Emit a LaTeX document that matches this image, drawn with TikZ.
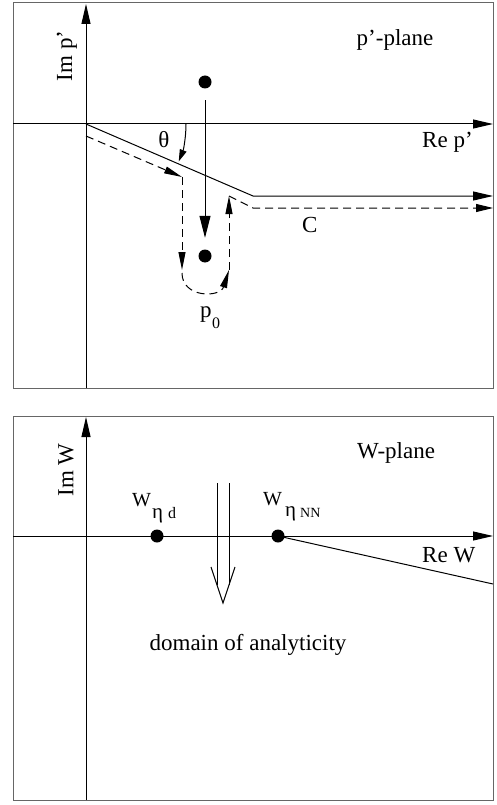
\documentclass[tikz,border=0pt]{standalone}
\usepackage{fontspec}
\setmainfont{Liberation Serif}
\usetikzlibrary{arrows.meta}
\begin{document}
\begin{tikzpicture}[x=1pt,y=-1pt,
  every node/.style={font=\fontsize{23}{27}\selectfont, inner sep=0pt},
  frame/.style={line width=1pt, draw=black!60},
  ln/.style={line width=1pt},
  ax/.style={line width=1pt,-{Triangle[length=20pt,width=9pt]}},
  dsh/.style={line width=1pt,dash pattern=on 8pt off 5pt},
  dtip/.style={-{Triangle[length=18pt,width=7pt]}},
  dot/.style={circle,fill,inner sep=0pt,minimum size=13pt},
  subA/.style={font=\fontsize{21}{24}\selectfont},
  subB/.style={font=\fontsize{16}{18}\selectfont},
  subC/.style={font=\fontsize{14}{16}\selectfont},
  wlbl/.style={font=\fontsize{20}{24}\selectfont}]
\useasboundingbox (0,0) rectangle (497,805);
\fill[white] (0,0) rectangle (497,805);

% ---------- top panel ----------
\draw[frame] (13,3) rectangle (493,388);
\coordinate (O1) at (86,124);
\coordinate (Ybot) at (86,388);
\coordinate (Ytop) at (86,4);
\coordinate (Xl) at (13,124);
\coordinate (Xr) at (493,124);
\draw[ax] (Ybot) -- (Ytop);
\draw[ax] (Xl) -- (Xr);
\coordinate (K) at (253,196);
\coordinate (Kr) at (493,196);
\draw[ax] (O1) -- (K) -- (Kr);

\node[dot] (pA) at (205,82) {};
\node[dot] (p0) at (205,256) {};
\draw[line width=1pt,-{Triangle[length=22pt,width=11pt]},shorten <=11.5pt,shorten >=11.5pt] (pA) -- (p0);

\coordinate (thS) at (186,124);
\draw[line width=1pt,-{Triangle[length=12pt,width=7pt]}] (thS) arc[start angle=0,end angle=-22,radius=100pt];

\coordinate (d1) at (86,136);
\coordinate (d2) at (182,177);
\coordinate (d3) at (182,270);
\coordinate (d4) at (182,273);
\coordinate (d5) at (229,270);
\coordinate (d6) at (229,196);
\coordinate (d7) at (253,208);
\coordinate (d8) at (493,208);
\draw[dsh,dtip] (d1) -- (d2);
\draw[dsh,dtip] (d2) -- (d3);
\draw[dsh,dtip] (d4) .. controls (182,298) and (220,298) .. (d5);
\draw[dsh,dtip] (d5) -- (d6);
\draw[dsh,-{Triangle[length=17pt,width=8pt]}] (d6) -- (d7) -- (d8);

\node[rotate=90] (imp) at (67,56) {Im p'};
\node[anchor=base] (pplane) at (395,46) {p'-plane};
\node[anchor=base west] (rep) at (422,148) {Re p'};
\node (th) at (164,140) {θ};
\node[anchor=base west] (C) at (302,232) {C};
\node[anchor=base west] (plab) at (200,317) {p};
\node[anchor=base west,subB] (plab0) at (212,328) {0};

% ---------- bottom panel ----------
\draw[frame] (13,416) rectangle (493,800);
\coordinate (Yb2) at (86,800);
\coordinate (Yt2) at (86,417);
\coordinate (Xl2) at (13,536);
\coordinate (Xr2) at (493,536);
\draw[ax] (Yb2) -- (Yt2);
\draw[ax] (Xl2) -- (Xr2);

\node[dot] (wd) at (157,536) {};
\node[dot] (wnn) at (278,536) {};
\coordinate (cutE) at (493,584);
\draw[ln] (wnn.center) -- (cutE);

\coordinate (La) at (217,483);
\coordinate (Lb) at (217,585);
\coordinate (Ra) at (229,483);
\coordinate (Rb) at (229,585);
\coordinate (Vl) at (211,567);
\coordinate (Vt) at (223,603);
\coordinate (Vr) at (235,567);
\draw[ln] (La) -- (Lb);
\draw[ln] (Ra) -- (Rb);
\draw[ln] (Vl) -- (Vt) -- (Vr);

\node[rotate=90] (imw) at (66,470) {Im W};
\node[anchor=base] (wplane) at (396,458) {W-plane};
\node[anchor=base west] (rew) at (422,562) {Re W};
\node[anchor=base] (dom) at (248,650) {domain of analyticity};

\node[anchor=base west,wlbl] (w1) at (132,506) {W};
\node[anchor=base west,subA] (w1e) at (152,518) {η};
\node[anchor=base west,subB] (w1d) at (168,518) {d};
\node[anchor=base west,wlbl] (w2) at (263,505) {W};
\node[anchor=base west,subA] (w2e) at (285,516) {η};
\node[anchor=base west,subC] (w2n) at (300,517) {NN};
\end{tikzpicture}
\end{document}
